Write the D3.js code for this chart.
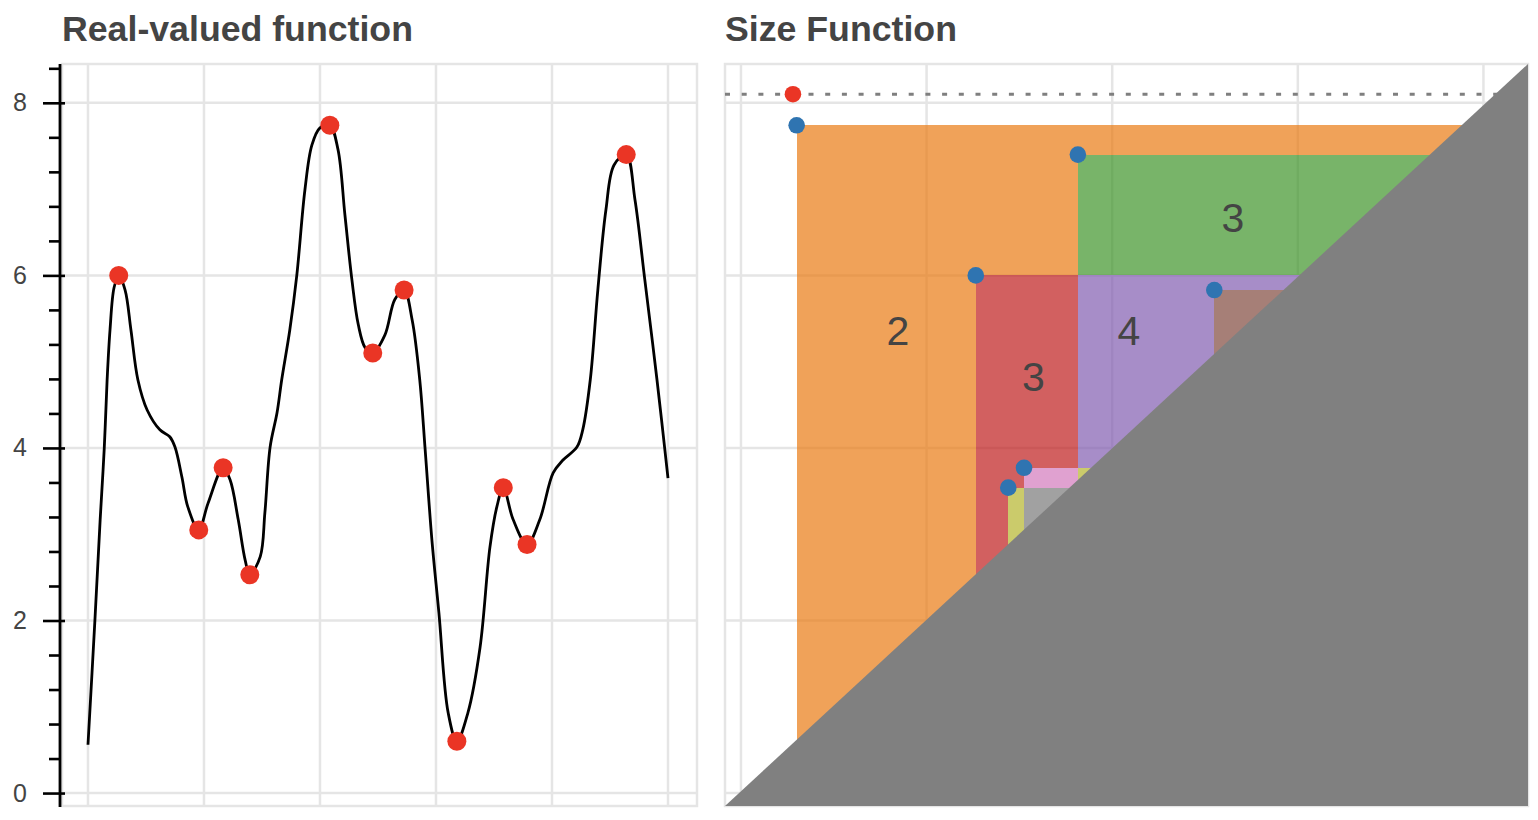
<!DOCTYPE html>
<html><head><meta charset="utf-8">
<script src="https://cdn.jsdelivr.net/npm/d3@7"></script>
<style>
body{margin:0;background:#fff}
svg{display:block}
text{font-family:"Liberation Sans",Arial,Helvetica,sans-serif}
</style>
</head><body>
<svg id="c" width="1538" height="820"></svg>
<script>
// ---------- data ----------
const titles = ["Real-valued function", "Size Function"];
// sampled real-valued function
const fx = [0.00,0.12,0.21,0.28,0.33,0.38,0.45,0.53,0.64,0.74,0.86,1.02,1.24,1.41,1.50,1.62,1.72,1.91,2.07,2.33,2.45,2.59,2.71,2.79,2.97,3.05,3.14,3.26,3.34,3.48,3.60,3.74,3.86,4.00,4.17,4.31,4.43,4.55,4.66,4.78,4.91,5.12,5.29,5.45,5.59,5.72,5.81,5.93,6.05,6.21,6.36,6.55,6.76,6.93,7.05,7.16,7.33,7.57,7.79,8.02,8.19,8.43,8.53,8.66,8.79,8.93,9.07,9.28,9.43,9.60,9.81,10.00];
const fy = [0.56,2.01,3.17,3.99,4.79,5.37,5.86,6.00,5.83,5.37,4.79,4.44,4.21,4.13,4.01,3.66,3.32,3.05,3.36,3.77,3.63,3.17,2.70,2.53,2.74,3.25,4.01,4.41,4.79,5.37,6.00,6.99,7.51,7.71,7.74,7.46,6.70,5.95,5.43,5.16,5.10,5.31,5.72,5.83,5.48,4.79,4.01,2.93,2.09,0.93,0.60,0.93,1.69,2.85,3.32,3.54,3.17,2.88,3.17,3.71,3.86,4.01,4.21,4.79,5.83,6.76,7.28,7.40,6.88,5.95,4.79,3.65];
// local extrema (red dots)
const extX = [0.53,1.91,2.33,2.79,4.17,4.91,5.45,6.36,7.16,7.57,9.28];
const extY = [6.00,3.05,3.77,2.53,7.74,5.10,5.83,0.60,3.54,2.88,7.40];
// cornerpoints of the size function
const births = [0.60,3.63,2.53,5.10,2.88,3.05];
const deaths = [7.74,7.40,6.00,5.83,3.54,3.77];
const infBirth = 0.56;   // cornerline (point at infinity)
const infLevel = 8.10;   // level where infinity is drawn
// regions of constant size-function value (Infinity = to plot edge)
const regX0 = [0.60,2.53,3.63,3.63,2.53,2.88,3.05,3.63,5.10,5.10,3.05,3.05,2.88,3.63];
const regX1 = [2.53,3.63,Infinity,Infinity,2.88,3.05,3.63,5.10,Infinity,Infinity,3.63,3.63,3.05,5.10];
const regY0 = [-Infinity,6.00,7.40,6.00,-Infinity,3.54,3.77,3.77,5.83,-Infinity,3.54,-Infinity,-Infinity,-Infinity];
const regY1 = [7.74,7.74,7.74,7.40,6.00,6.00,6.00,6.00,6.00,5.83,3.77,3.54,3.54,3.77];
const regColor = ["#e97a13","#e97a13","#e97a13","#3e942a","#bf1c1c","#bf1c1c","#bf1c1c","#815cb0","#815cb0","#80483d","#d379bc","#797979","#b5b52c","#b5b52c"];
// region value labels
const labText = ["2","3","3","4"];
const labX = [1.69,5.30,3.15,4.18];
const labY = [5.35,6.67,4.82,5.35];
// ticks
const yTicks = [0,2,4,6,8];
const xTicksL = [0,2,4,6,8,10];
const xTicksR = [0,2,4,6,8];

// ---------- scales ----------
const svg = d3.select("#c");
const yS = d3.scaleLinear().domain([-0.15,8.45]).range([806,64]);
const xL = d3.scaleLinear().domain([-0.448,10.5]).range([62,697]);
const xR = d3.scaleLinear().domain([-0.172,8.48]).range([725,1528]);
const gridC = "#e5e5e5", gridW = 2.5;
const redC = "#ea3525", blueC = "#2f74b1";

// titles
svg.append("text").attr("x",62).attr("y",41).text(titles[0])
  .attr("font-size",35.7).attr("font-weight","bold").attr("fill","#444");
svg.append("text").attr("x",725).attr("y",41).text(titles[1])
  .attr("font-size",35.7).attr("font-weight","bold").attr("fill","#444");

// ---------- left panel ----------
const L = svg.append("g");
L.selectAll("line.vx").data(xTicksL).join("line")
  .attr("x1",d=>xL(d)).attr("x2",d=>xL(d)).attr("y1",64).attr("y2",806)
  .attr("stroke",gridC).attr("stroke-width",gridW);
L.selectAll("line.hy").data(yTicks).join("line")
  .attr("x1",62).attr("x2",697).attr("y1",d=>yS(d)).attr("y2",d=>yS(d))
  .attr("stroke",gridC).attr("stroke-width",gridW);
L.append("rect").attr("x",62).attr("y",64).attr("width",635).attr("height",742)
  .attr("fill","none").attr("stroke",gridC).attr("stroke-width",gridW);

const line = d3.line().x((d,i)=>xL(fx[i])).y((d,i)=>yS(fy[i])).curve(d3.curveCatmullRom.alpha(0.5));
L.append("path").attr("d",line(fx)).attr("fill","none").attr("stroke","#000").attr("stroke-width",2.8)
  .attr("stroke-linejoin","round");
L.selectAll("circle").data(extX).join("circle")
  .attr("cx",d=>xL(d)).attr("cy",(d,i)=>yS(extY[i])).attr("r",9.5).attr("fill",redC);

// y axis
const minor = d3.range(0, 8.45, 0.4).filter(v => Math.abs(v/2 - Math.round(v/2)) > 1e-6);
const axMinor = svg.append("g").attr("transform","translate(60,0)")
  .call(d3.axisLeft(yS).tickValues(minor).tickSize(11).tickSizeOuter(0).tickFormat(""));
axMinor.select(".domain").remove();
axMinor.selectAll(".tick line").attr("stroke","#000").attr("stroke-width",2.6);
const ax = svg.append("g").attr("transform","translate(60,0)")
  .call(d3.axisLeft(yS).tickValues(yTicks).tickSize(17).tickSizeOuter(0).tickPadding(16).tickFormat(d3.format("d")));
ax.select(".domain").attr("stroke","#000").attr("stroke-width",2.8).attr("d","M0,64V807");
ax.selectAll(".tick line").attr("stroke","#000").attr("stroke-width",2.6).attr("x1",5);
ax.selectAll(".tick text").attr("font-size",25).attr("fill","#444")
  .attr("font-family",'"Liberation Sans",Arial,sans-serif');

// ---------- right panel ----------
const R = svg.append("g");
const [dx0, dx1] = xR.domain(), [dy0, dy1] = yS.domain();
const cx = v => xR(Math.max(dx0, Math.min(dx1, v)));
const cy = v => yS(Math.max(dy0, Math.min(dy1, v)));
R.selectAll("line.vx").data(xTicksR).join("line")
  .attr("x1",d=>xR(d)).attr("x2",d=>xR(d)).attr("y1",64).attr("y2",806)
  .attr("stroke",gridC).attr("stroke-width",gridW);
R.selectAll("line.hy").data(yTicks).join("line")
  .attr("x1",725).attr("x2",1528).attr("y1",d=>yS(d)).attr("y2",d=>yS(d))
  .attr("stroke",gridC).attr("stroke-width",gridW);
R.append("rect").attr("x",725).attr("y",64).attr("width",803).attr("height",742)
  .attr("fill","none").attr("stroke",gridC).attr("stroke-width",gridW);

R.append("g").selectAll("rect").data(regX0).join("rect")
  .attr("x",(d,i)=>cx(regX0[i])).attr("width",(d,i)=>cx(regX1[i])-cx(regX0[i]))
  .attr("y",(d,i)=>cy(regY1[i])).attr("height",(d,i)=>cy(regY0[i])-cy(regY1[i]))
  .attr("fill",(d,i)=>regColor[i]).attr("fill-opacity",0.7).attr("shape-rendering","crispEdges");

R.selectAll("text.lab").data(labText).join("text")
  .attr("x",(d,i)=>xR(labX[i])).attr("y",(d,i)=>yS(labY[i]))
  .attr("text-anchor","middle").attr("dominant-baseline","central")
  .attr("font-size",41).attr("fill","#444").text(d=>d);

// infinity line
R.append("line").attr("x1",725).attr("x2",1528).attr("y1",yS(infLevel)).attr("y2",yS(infLevel))
  .attr("stroke","#7f7f7f").attr("stroke-width",3).attr("stroke-dasharray","5,11.7");

// diagonal triangle
R.append("path")
  .attr("d", d3.line()([[xR(dx0),yS(dy0)],[xR(dx1),yS(dy1)],[xR(dx1),yS(dy0)]]) + "Z")
  .attr("fill","#808080");

// cornerpoints
R.selectAll("circle.cp").data(births).join("circle")
  .attr("cx",d=>xR(d)).attr("cy",(d,i)=>yS(deaths[i])).attr("r",8.3).attr("fill",blueC);
R.append("circle").attr("cx",xR(infBirth)).attr("cy",yS(infLevel)).attr("r",8.3).attr("fill",redC);
</script>
</body></html>
